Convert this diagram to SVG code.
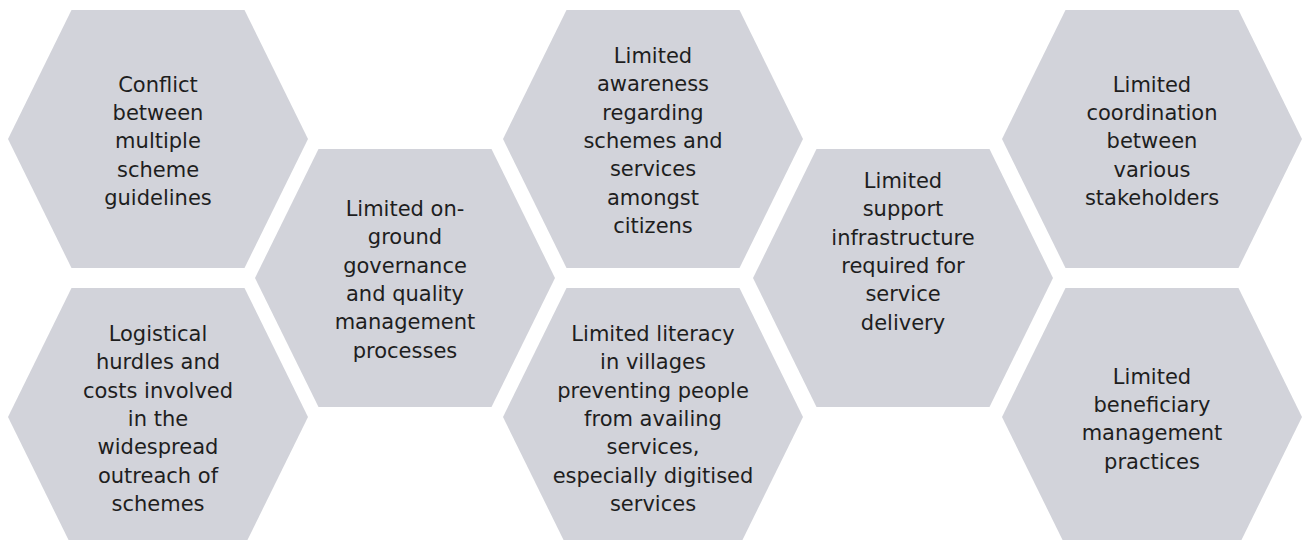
<svg xmlns="http://www.w3.org/2000/svg" xmlns:xlink="http://www.w3.org/1999/xlink" width="1305" height="540" viewBox="0 0 1305 540">
<style>
.hex{fill:#d2d3da;}
.t{font-family:"DejaVu Sans","Liberation Sans",sans-serif;font-size:21px;fill:#1e1e1e;text-anchor:middle;}
</style>
<defs>
<path id="hx" d="M-150,0 L-86.5,-129 L86.5,-129 L150,0 L86.5,129 L-86.5,129 Z"/>
</defs>
<rect width="1305" height="540" fill="#ffffff"/>
<g id="connectors"></g>
<g id="n1">
<use xlink:href="#hx" href="#hx" class="hex" x="158" y="139"/>
<text class="t"><tspan x="158" y="91.5">Conflict</tspan><tspan x="158" y="120">between</tspan><tspan x="158" y="148">multiple</tspan><tspan x="158" y="176.5">scheme</tspan><tspan x="158" y="205">guidelines</tspan></text>
</g>
<g id="n2">
<use xlink:href="#hx" href="#hx" class="hex" x="158" y="417"/>
<text class="t"><tspan x="158" y="341">Logistical</tspan><tspan x="158" y="369.3">hurdles and</tspan><tspan x="158" y="397.6">costs involved</tspan><tspan x="158" y="426">in the</tspan><tspan x="158" y="454.3">widespread</tspan><tspan x="158" y="482.6">outreach of</tspan><tspan x="158" y="511">schemes</tspan></text>
</g>
<g id="n3">
<use xlink:href="#hx" href="#hx" class="hex" x="405" y="278"/>
<text class="t"><tspan x="405" y="216">Limited on-</tspan><tspan x="405" y="244.3">ground</tspan><tspan x="405" y="272.6">governance</tspan><tspan x="405" y="301">and quality</tspan><tspan x="405" y="329.3">management</tspan><tspan x="405" y="357.6">processes</tspan></text>
</g>
<g id="n4">
<use xlink:href="#hx" href="#hx" class="hex" x="653" y="139"/>
<text class="t"><tspan x="653" y="63">Limited</tspan><tspan x="653" y="91.3">awareness</tspan><tspan x="653" y="119.6">regarding</tspan><tspan x="653" y="148">schemes and</tspan><tspan x="653" y="176.3">services</tspan><tspan x="653" y="204.6">amongst</tspan><tspan x="653" y="233">citizens</tspan></text>
</g>
<g id="n5">
<use xlink:href="#hx" href="#hx" class="hex" x="653" y="417"/>
<text class="t"><tspan x="653" y="341">Limited literacy</tspan><tspan x="653" y="369.3">in villages</tspan><tspan x="653" y="397.6">preventing people</tspan><tspan x="653" y="426">from availing</tspan><tspan x="653" y="454.3">services,</tspan><tspan x="653" y="482.6">especially digitised</tspan><tspan x="653" y="511">services</tspan></text>
</g>
<g id="n6">
<use xlink:href="#hx" href="#hx" class="hex" x="903" y="278"/>
<text class="t"><tspan x="903" y="188">Limited</tspan><tspan x="903" y="216.3">support</tspan><tspan x="903" y="244.6">infrastructure</tspan><tspan x="903" y="273">required for</tspan><tspan x="903" y="301.3">service</tspan><tspan x="903" y="329.6">delivery</tspan></text>
</g>
<g id="n7">
<use xlink:href="#hx" href="#hx" class="hex" x="1152" y="139"/>
<text class="t"><tspan x="1152" y="91.5">Limited</tspan><tspan x="1152" y="120">coordination</tspan><tspan x="1152" y="148">between</tspan><tspan x="1152" y="176.5">various</tspan><tspan x="1152" y="205">stakeholders</tspan></text>
</g>
<g id="n8">
<use xlink:href="#hx" href="#hx" class="hex" x="1152" y="417"/>
<text class="t"><tspan x="1152" y="383.5">Limited</tspan><tspan x="1152" y="411.8">beneficiary</tspan><tspan x="1152" y="440.1">management</tspan><tspan x="1152" y="468.5">practices</tspan></text>
</g>
</svg>
